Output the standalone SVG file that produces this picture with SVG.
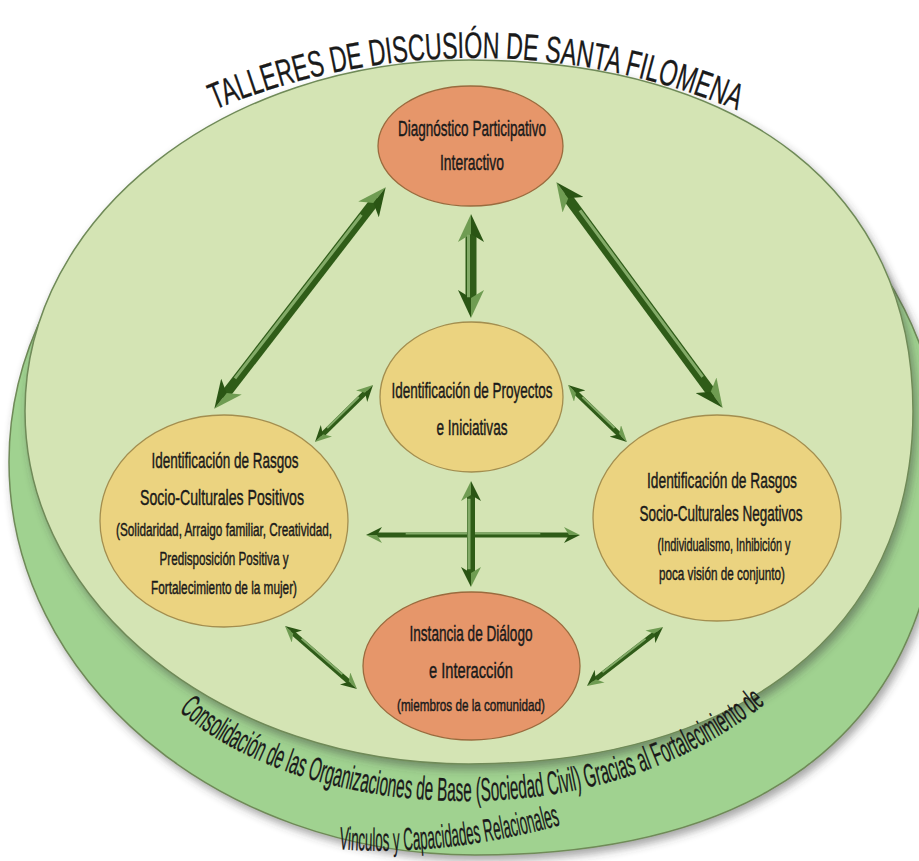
<svg xmlns="http://www.w3.org/2000/svg" width="919" height="861" viewBox="0 0 919 861">
<defs>
  <filter id="sh" x="-10%" y="-10%" width="125%" height="130%">
    <feDropShadow dx="3" dy="5" stdDeviation="4" flood-color="#3c3c3c" flood-opacity="0.45"/>
  </filter>
  <marker id="mb" viewBox="0 0 28 26" markerWidth="28" markerHeight="26" refX="14" refY="13" orient="auto-start-reverse" markerUnits="userSpaceOnUse">
    <path d="M0,0 L28,13 L8,13 Z" fill="#6f9c52"/>
    <path d="M8,13 L28,13 L0,26 Z" fill="#2a5514"/>
  </marker>
  <marker id="mm" viewBox="0 0 20 20" markerWidth="20" markerHeight="20" refX="10" refY="10" orient="auto-start-reverse" markerUnits="userSpaceOnUse">
    <path d="M0,0 L20,10 L6,10 Z" fill="#6f9c52"/>
    <path d="M6,10 L20,10 L0,20 Z" fill="#2a5514"/>
  </marker>
  <marker id="ms" viewBox="0 0 16 16" markerWidth="16" markerHeight="16" refX="8" refY="8" orient="auto-start-reverse" markerUnits="userSpaceOnUse">
    <path d="M0,0 L16,8 L5,8 Z" fill="#6f9c52"/>
    <path d="M5,8 L16,8 L0,16 Z" fill="#2a5514"/>
  </marker>
  <path id="titleArc" d="M 200,116 A 680 680 0 0 1 750,116"/>
  <path id="baseArc" d="M 176,708 C 290,815 590,852 772,698"/>
  <path id="baseArc2" d="M 325,848 Q 445,860 582,819"/>
</defs>
<style>
  .t { font-family: "Liberation Sans", Arial, sans-serif; fill: #1a1a1a; stroke: #1a1a1a; stroke-width: 0.45; text-anchor: middle; }
  .h { font-size: 22px; }
  .s { font-size: 18px; }
  .orange { fill: #e6966a; stroke: #9a6b3e; stroke-width: 1.3; }
  .yellow { fill: #ebd380; stroke: #a38e4f; stroke-width: 1.3; }
  .sb { stroke: #2f5c18; stroke-width: 10; marker-start: url(#mb); marker-end: url(#mb); }
  .sm { stroke: #2f5c18; stroke-width: 8; marker-start: url(#mm); marker-end: url(#mm); }
  .ss { stroke: #2f5c18; stroke-width: 5; marker-start: url(#ms); marker-end: url(#ms); }
  .hl { stroke: #83ab68; stroke-width: 3; stroke-dasharray: 0 9 82 9; }
  .hls { stroke: #83ab68; stroke-width: 2; stroke-dasharray: 0 16 68 16; }
</style>

<rect width="919" height="861" fill="#ffffff"/>

<g id="disk">
  <path d="M 9,462 C 9,245 218,69 475,69 C 732,69 941,245 941,462 C 941,717 778,855 475,855 C 218,855 9,679 9,462 Z" fill="#a0d290" stroke="#6f8a58" stroke-width="1.5" filter="url(#sh)"/>
  <path d="M 25,411 C 25,216 224,60 469,60 C 744,60 913,192 913,411 C 913,630 740,764 469,764 C 224,764 25,606 25,411 Z" fill="#d4e4b4" stroke="#6f8a58" stroke-width="1.5" filter="url(#sh)"/>
</g>

<g id="title">
  <text class="t" style="text-anchor:start;stroke-width:0.3" font-size="37"><textPath href="#titleArc" startOffset="16" textLength="536" lengthAdjust="spacingAndGlyphs">TALLERES DE DISCUSIÓN DE SANTA FILOMENA</textPath></text>
</g>

<g id="base-text">
  <text class="t" style="text-anchor:start;stroke-width:0.3" font-size="33"><textPath href="#baseArc" startOffset="4" textLength="628" lengthAdjust="spacingAndGlyphs">Consolidación de las Organizaciones de Base (Sociedad Civil) Gracias al Fortalecimiento de</textPath></text>
  <text class="t" style="text-anchor:start;stroke-width:0.3" font-size="32"><textPath href="#baseArc2" startOffset="14" textLength="224" lengthAdjust="spacingAndGlyphs">Vinculos y Capacidades Relacionales</textPath></text>
</g>

<g id="connectors">
  <line class="sb" x1="377.1" y1="198.3" x2="222.9" y2="397.7"/>
  <line class="hl" pathLength="100" x1="377.1" y1="198.3" x2="222.9" y2="397.7" transform="translate(-1.8,-1.4)"/>
  <line class="sb" x1="564.7" y1="193.5" x2="714.3" y2="396.5"/>
  <line class="hl" pathLength="100" x1="564.7" y1="193.5" x2="714.3" y2="396.5" transform="translate(1.8,-1.4)"/>
  <line class="sb" style="stroke-width:11" x1="471" y1="228" x2="471" y2="304"/>
  <line class="hl" pathLength="100" x1="471" y1="228" x2="471" y2="304" transform="translate(-2.5,0)"/>
  <line class="ss" x1="367.3" y1="390.6" x2="320.7" y2="436.4"/>
  <line class="hls" pathLength="100" x1="367.3" y1="390.6" x2="320.7" y2="436.4" transform="translate(-1,-1)"/>
  <line class="ss" x1="573.8" y1="390.6" x2="621.2" y2="436.4"/>
  <line class="hls" pathLength="100" x1="573.8" y1="390.6" x2="621.2" y2="436.4" transform="translate(1,-1)"/>
  <line class="ss" x1="374" y1="535" x2="572" y2="535"/>
  <line class="hls" pathLength="100" x1="374" y1="535" x2="572" y2="535" transform="translate(0,-1.5)"/>
  <line class="sm" x1="471" y1="491" x2="471" y2="577"/>
  <line class="hl" pathLength="100" x1="471" y1="491" x2="471" y2="577" transform="translate(-2,0)"/>
  <line class="ss" x1="291" y1="631.3" x2="351" y2="683.7"/>
  <line class="hls" pathLength="100" x1="291" y1="631.3" x2="351" y2="683.7" transform="translate(1,-1)"/>
  <line class="ss" x1="593.3" y1="681.1" x2="656.7" y2="631.9"/>
  <line class="hls" pathLength="100" x1="593.3" y1="681.1" x2="656.7" y2="631.9" transform="translate(-1,-1)"/>
</g>

<g id="diagnostico">
  <ellipse class="orange" cx="470.5" cy="146" rx="92.5" ry="60"/>
  <text class="t h" x="472" y="136" textLength="148" lengthAdjust="spacingAndGlyphs">Diagnóstico Participativo</text>
  <text class="t h" x="472" y="170" textLength="64" lengthAdjust="spacingAndGlyphs">Interactivo</text>
</g>

<g id="proyectos">
  <ellipse class="yellow" cx="471.5" cy="397" rx="91.5" ry="75"/>
  <text class="t h" x="472" y="398" textLength="161" lengthAdjust="spacingAndGlyphs">Identificación de Proyectos</text>
  <text class="t h" x="472" y="435" textLength="71" lengthAdjust="spacingAndGlyphs">e Iniciativas</text>
</g>

<g id="positivos">
  <ellipse class="yellow" cx="224" cy="521" rx="124" ry="106"/>
  <text class="t h" x="225" y="468" textLength="147" lengthAdjust="spacingAndGlyphs">Identificación de Rasgos</text>
  <text class="t h" x="222" y="505" textLength="164" lengthAdjust="spacingAndGlyphs">Socio-Culturales Positivos</text>
  <text class="t s" x="224" y="536" textLength="216" lengthAdjust="spacingAndGlyphs">(Solidaridad, Arraigo familiar, Creatividad,</text>
  <text class="t s" x="224" y="565" textLength="129" lengthAdjust="spacingAndGlyphs">Predisposición Positiva y</text>
  <text class="t s" x="224" y="594" textLength="146" lengthAdjust="spacingAndGlyphs">Fortalecimiento de la mujer)</text>
</g>

<g id="negativos">
  <ellipse class="yellow" cx="717" cy="518" rx="124" ry="103"/>
  <text class="t h" x="722" y="488" textLength="150" lengthAdjust="spacingAndGlyphs">Identificación de Rasgos</text>
  <text class="t h" x="721" y="521" textLength="163" lengthAdjust="spacingAndGlyphs">Socio-Culturales Negativos</text>
  <text class="t s" x="724" y="551" textLength="133" lengthAdjust="spacingAndGlyphs">(Individualismo, Inhibición y</text>
  <text class="t s" x="722" y="580" textLength="126" lengthAdjust="spacingAndGlyphs">poca visión de conjunto)</text>
</g>

<g id="instancia">
  <ellipse class="orange" cx="471.5" cy="666" rx="108.5" ry="74"/>
  <text class="t h" x="471" y="641" textLength="123" lengthAdjust="spacingAndGlyphs">Instancia de Diálogo</text>
  <text class="t h" x="471" y="678" textLength="84" lengthAdjust="spacingAndGlyphs">e Interacción</text>
  <text class="t" x="471" y="711" font-size="17" textLength="148" lengthAdjust="spacingAndGlyphs">(miembros de la comunidad)</text>
</g>
</svg>
